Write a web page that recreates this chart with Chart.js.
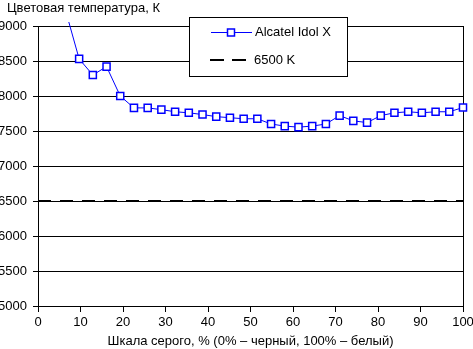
<!DOCTYPE html>
<html>
<head>
<meta charset="utf-8">
<script src="https://cdn.jsdelivr.net/npm/chart.js@4"></script>
<style>
  body { margin: 0; background: #fff; }
</style>
</head>
<body>
<canvas id="tempChart" width="473" height="349"></canvas>
<script>
const grayLevels = [6.45, 9.68, 12.9, 16.13, 19.35, 22.58, 25.81, 29.03, 32.26, 35.48,
  38.71, 41.94, 45.16, 48.39, 51.61, 54.84, 58.06, 61.29, 64.52, 67.74,
  70.97, 74.19, 77.42, 80.65, 83.87, 87.1, 90.32, 93.55, 96.77, 100];
const colorTemp = [9230, 8530, 8300, 8420, 8000, 7830, 7830, 7805, 7775, 7760,
  7735, 7705, 7690, 7675, 7675, 7600, 7570, 7555, 7570, 7600,
  7720, 7645, 7620, 7720, 7760, 7775, 7760, 7775, 7775, 7835];
const refTemp = 6500;
const seriesNames = ["Alcatel Idol X", "6500 K"];
const yTitle = "Цветовая температура, К";
const xTitle = "Шкала серого, % (0% – черный, 100% – белый)";

const FONT = "'Liberation Sans', Arial, sans-serif";

// caption above the y axis and the boxed legend over the plot
const overlay = {
  id: "overlay",
  afterDraw(chart) {
    const ctx = chart.ctx;
    const ds = chart.data.datasets;
    ctx.save();
    ctx.font = "13px " + FONT;
    ctx.fillStyle = "#000";
    ctx.textBaseline = "middle";
    ctx.textAlign = "left";
    ctx.fillText(yTitle, 7, 8);

    ctx.fillStyle = "#fff";
    ctx.fillRect(189.5, 17.5, 158, 59);
    ctx.strokeStyle = "#000";
    ctx.lineWidth = 1;
    ctx.strokeRect(189.5, 17.5, 158, 59);

    // series row
    ctx.strokeStyle = ds[0].borderColor;
    ctx.beginPath();
    ctx.moveTo(211, 32.5);
    ctx.lineTo(252, 32.5);
    ctx.stroke();
    ctx.fillStyle = "#fff";
    ctx.lineWidth = 1.5;
    ctx.fillRect(227.5, 29, 7, 7);
    ctx.strokeRect(227.5, 29, 7, 7);

    // reference row
    ctx.strokeStyle = ds[1].borderColor;
    ctx.lineWidth = 2;
    ctx.setLineDash([14, 8]);
    ctx.beginPath();
    ctx.moveTo(210, 60);
    ctx.lineTo(246, 60);
    ctx.stroke();
    ctx.setLineDash([]);

    ctx.fillStyle = "#000";
    ctx.fillText(ds[0].label, 255, 32);
    ctx.fillText(ds[1].label, 254, 60);
    ctx.restore();
  }
};

new Chart(document.getElementById("tempChart"), {
  type: "line",
  data: {
    datasets: [
      {
        label: seriesNames[0],
        data: grayLevels.map((x, i) => ({ x: x, y: colorTemp[i] })),
        borderColor: "#0000ff",
        borderWidth: 1,
        pointStyle: "rect",
        pointRadius: 5,
        pointBorderWidth: 1.5,
        pointBackgroundColor: "#fff",
        pointBorderColor: "#0000ff",
        tension: 0,
        clip: { left: 5, top: 4, right: 6, bottom: 5 },
      },
      {
        label: seriesNames[1],
        data: [{ x: 0, y: refTemp }, { x: 100, y: refTemp }],
        borderColor: "#000",
        borderWidth: 2,
        borderDash: [13, 9],
        pointRadius: 0,
      },
    ],
  },
  options: {
    responsive: false,
    animation: false,
    layout: { padding: { top: 26, right: 10, left: 0, bottom: 0 } },
    plugins: {
      legend: { display: false },
      tooltip: { enabled: false },
    },
    scales: {
      x: {
        type: "linear",
        min: 0,
        max: 100,
        afterFit: (s) => {
          s.height = 43;
          s.paddingLeft = 0;
          s.paddingRight = 0;
        },
        ticks: { stepSize: 10, color: "#000", padding: 3, maxRotation: 0, font: { family: FONT, size: 13 } },
        grid: {
          color: (c) => (c.tick && c.tick.value === 100 ? "#000" : "rgba(0,0,0,0)"),
          tickColor: "#000",
          tickLength: 6,
        },
        border: { color: "#000" },
        title: { display: true, text: xTitle, color: "#000", padding: 0, font: { family: FONT, size: 13 } },
      },
      y: {
        min: 5000,
        max: 9000,
        afterFit: (s) => {
          s.width = 38;
          s.paddingTop = 0;
          s.paddingBottom = 0;
        },
        ticks: {
          stepSize: 500,
          color: "#000",
          padding: 6,
          font: { family: FONT, size: 13 },
          callback: (v) => String(v),
        },
        grid: { color: "#000", tickColor: "#000", tickLength: 5 },
        border: { color: "#000" },
      },
    },
  },
  plugins: [overlay],
});
</script>
</body>
</html>
